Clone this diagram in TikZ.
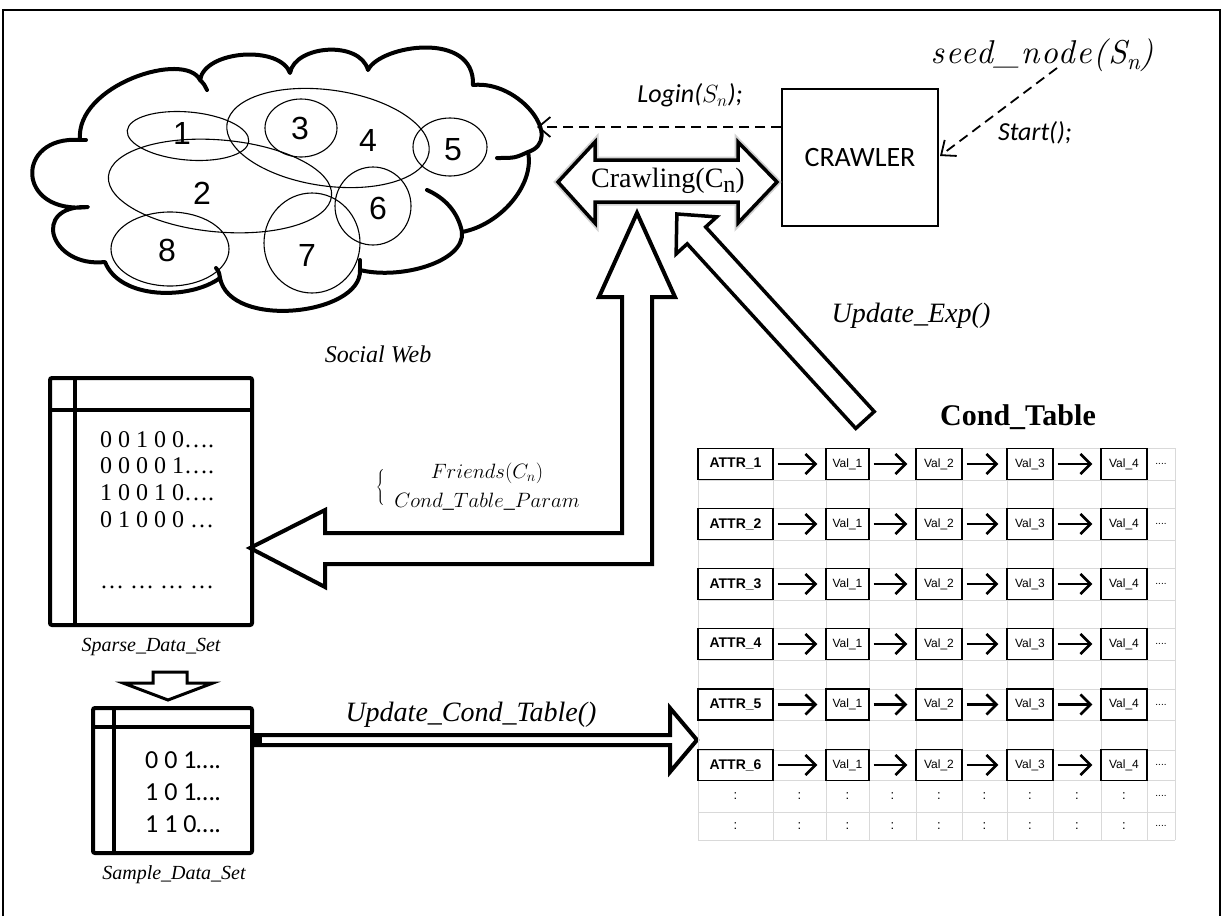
\documentclass[tikz,border=0pt]{standalone}
\usepackage{fontspec}
\setmainfont{Liberation Serif}
\newfontfamily\arialf{Liberation Sans}
\newfontfamily\calib{Carlito}
\newfontfamily\mathlike[LetterSpace=5,ItalicFont=lmroman10-italic.otf]{lmroman10-regular.otf}
\usetikzlibrary{arrows.meta}

\begin{document}
\begin{tikzpicture}[x=1pt,y=1pt,
  cloudline/.style={line width=4pt, line join=round, line cap=round},
  venn/.style={line width=1.1pt},
  num/.style={font=\arialf\fontsize{32}{32}\selectfont, inner sep=0pt},
  blockarrow/.style={draw, fill=white, line width=4pt, line join=miter, miter limit=20},
  barb/.style={-{Straight Barb[length=12pt,width=20pt,line width=1.8pt]}},
  dasharrow/.style={barb, dash pattern=on 10pt off 6pt, line width=1.8pt},
  datatable/.style={draw, line width=4pt, rounded corners=2pt},
  gridline/.style={draw=black!15, line width=1pt},
  attrbox/.style={draw, line width=1.4pt, minimum width=75pt, minimum height=31pt, inner sep=0pt,
    font=\arialf\bfseries\fontsize{14}{14}\selectfont},
  valbox/.style={draw, line width=1.4pt, minimum height=31pt, inner sep=0pt,
    font=\arialf\fontsize{12}{12}\selectfont},
  cellarrow/.style={line width=2.6pt, shorten <=4pt, shorten >=8pt,
    -{Straight Barb[length=10pt,width=20pt,line width=2.6pt]}},
  tdots/.style={font=\arialf\fontsize{10}{10}\selectfont, inner sep=0pt},
  tcolon/.style={font=\arialf\fontsize{13}{13}\selectfont, inner sep=0pt},
  itlabel/.style={font=\itshape\fontsize{28}{28}\selectfont, inner sep=0pt},
  smalllabel/.style={font=\itshape\fontsize{20}{20}\selectfont, inner sep=0pt},
  calit/.style={font=\calib\itshape\fontsize{26}{26}\selectfont, inner sep=0pt},
  mathlabel/.style={font=\fontsize{22}{22}\selectfont, inner sep=0pt},
]
\useasboundingbox (0,0) rectangle (1224,-916);

% outer frame
\draw[line width=2pt] (3,-916) -- (3,-10) -- (1220,-10) -- (1220,-916);

% ---------- social web cloud ----------
\draw[cloudline, fill=white]
  (88,-207) .. controls (15,-215) and (15,-135) .. (80,-140)
  .. controls (75,-85) and (185,-50) .. (200,-80)
  .. controls (205,-50) and (280,-45) .. (290,-73)
  .. controls (295,-45) and (360,-40) .. (368,-70)
  .. controls (380,-45) and (475,-30) .. (473,-85)
  .. controls (520,-80) and (565,-140) .. (528,-152)
  .. controls (535,-185) and (500,-225) .. (462,-232)
  .. controls (465,-262) and (400,-280) .. (360,-270)
  .. controls (362,-315) and (230,-330) .. (220,-278)
  .. controls (190,-300) and (120,-300) .. (105,-262)
  .. controls (50,-268) and (30,-205) .. (88,-207) -- cycle;
% inner ends of the puffs
\draw[cloudline] (528,-152) .. controls (515,-158) .. (497,-158);
\draw[cloudline] (462,-232) .. controls (458,-212) and (445,-198) .. (427,-190);
\draw[cloudline] (360,-270) -- (360,-260);
\draw[cloudline] (220,-278) .. controls (219,-272) .. (216,-268);
\draw[cloudline] (200,-80) .. controls (204,-84) .. (207,-90);
\draw[cloudline] (80,-140) -- (86,-140);

% overlapping communities
\draw[venn] (188,-136) ellipse[x radius=61, y radius=24, rotate=-5];
\draw[venn] (220,-186) ellipse[x radius=112, y radius=46, rotate=-5];
\draw[venn] (301,-128) ellipse[x radius=36, y radius=29];
\draw[venn] (328,-138) ellipse[x radius=102, y radius=48, rotate=-8];
\draw[venn] (450,-147) ellipse[x radius=37, y radius=29];
\draw[venn] (373,-206) ellipse[x radius=38, y radius=39];
\draw[venn] (312,-243) ellipse[x radius=48, y radius=50];
\draw[venn] (170,-249) ellipse[x radius=59, y radius=37];
\node[num] (n1) at (182,-133) {1};
\node[num] (n2) at (202,-193) {2};
\node[num] (n3) at (300,-128) {3};
\node[num] (n4) at (368,-140) {4};
\node[num] (n5) at (453,-150) {5};
\node[num] (n6) at (378,-208) {6};
\node[num] (n7) at (307,-255) {7};
\node[num] (n8) at (167,-250) {8};
\node[font=\itshape\fontsize{24}{24}\selectfont, inner sep=0pt] (social) at (378,-354) {Social Web};
\coordinate (cloudR) at (537,-127);

% ---------- crawler ----------
\node[draw, line width=1.5pt, minimum width=156pt, minimum height=137pt, inner sep=0pt,
      font=\calib\fontsize{28}{28}\selectfont] (crawler) at (860,-157.5) {CRAWLER};
\node[font=\mathlike\itshape\fontsize{33}{33}\selectfont, inner sep=0pt] (seed) at (1042,-55)
  {seed\_node(S\raisebox{-6pt}{\fontsize{23}{23}\selectfont n})};
\coordinate (seedEnd) at (1057,-68);
\coordinate (crawlerR) at (940,-156);
\draw[dasharrow] (seedEnd) -- (crawlerR);
\node[calit] (start) at (1035,-133) {Start();};
\draw[dasharrow] (crawler.west |- cloudR) -- (cloudR);
\node[calit] (login) at (690,-95) {Login($S_n$);};

% ---------- crawling double arrow ----------
\path[draw=black!30, line width=7pt, line join=miter, opacity=0.6]
  (558,-182) -- (595,-142) -- (595,-160) -- (738,-160) -- (738,-142) -- (777,-182)
  -- (738,-223) -- (738,-202) -- (595,-202) -- (595,-223) -- cycle;
\draw[line width=3.5pt, fill=white, line join=miter]
  (558,-182) -- (595,-142) -- (595,-160) -- (738,-160) -- (738,-142) -- (777,-182)
  -- (738,-223) -- (738,-202) -- (595,-202) -- (595,-223) -- cycle;
\node[font=\fontsize{28}{28}\selectfont, inner sep=0pt] (crawl) at (668,-181)
  {Crawling(C\raisebox{-5pt}{\fontsize{24}{24}\selectfont n})};

% ---------- block arrows ----------
% crawled friends back to the sparse data set
\draw[blockarrow]
  (637,-213) -- (675,-297) -- (652,-297) -- (652,-564) -- (325,-564) -- (325,-587)
  -- (250,-548) -- (325,-510) -- (325,-533) -- (622,-533) -- (622,-297) -- (599,-297) -- cycle;
% expectation update from the condition table
\begin{scope}[shift={(865,-420)}, rotate=132.4]
  \draw[blockarrow, line width=3.5pt]
    (0,-12.5) -- (250,-12.5) -- (250,-27.5) -- (279,0) -- (250,27.5) -- (250,12.5) -- (0,12.5) -- cycle;
\end{scope}
\node[itlabel] (updexp) at (911,-316) {Update\_Exp()};
% sparse -> sample
\draw[blockarrow, line width=3pt]
  (153,-672) -- (187,-672) -- (187,-683) -- (213,-683) -- (168,-700) -- (123,-683) -- (153,-683) -- cycle;
% sample -> condition table
\draw[blockarrow]
  (253,-735) -- (670,-735) -- (670,-708) -- (697,-740) -- (670,-772) -- (670,-745) -- (253,-745) -- cycle;
\fill (252,-733) rectangle (262,-747);
\node[itlabel] (updcond) at (471,-715) {Update\_Cond\_Table()};

% label on the L arrow
\node[font=\fontsize{22}{22}\selectfont, inner sep=0pt] (brace) at (381,-487)
  {$\left\{\rule{0pt}{22pt}\right.$};
\node[mathlabel] (fr1) at (487,-473) {$Friends(C_n)$};
\node[mathlabel] (fr2) at (487,-502) {$Cond\_Table\_Param$};

% ---------- sparse data set ----------
\draw[datatable] (50,-378) rectangle (252,-625);
\draw[line width=4pt] (50,-410) -- (252,-410) (75,-378) -- (75,-625);
\begin{scope}[every node/.style={anchor=base west, inner sep=0pt, font=\fontsize{24}{24}\selectfont}]
  \node (s1) at (100,-447) {0 0 1 0 0….};
  \node (s2) at (100,-473) {0 0 0 0 1….};
  \node (s3) at (100,-500) {1 0 0 1 0….};
  \node (s4) at (100,-527) {0 1 0 0 0 …};
  \node (s5) at (100,-588) {… … … …};
\end{scope}
\node[smalllabel] (sparse) at (151,-647) {Sparse\_Data\_Set};

% ---------- sample data set ----------
\draw[datatable] (93,-708) rectangle (252,-853);
\draw[line width=4pt] (93,-727) -- (252,-727) (114,-708) -- (114,-853);
\begin{scope}[every node/.style={anchor=base west, inner sep=0pt, font=\calib\fontsize{26}{26}\selectfont}]
  \node (t1) at (145,-768) {0 0 1….};
  \node (t2) at (145,-800) {1 0 1….};
  \node (t3) at (145,-832) {1 1 0….};
\end{scope}
\node[smalllabel] (sample) at (174,-875) {Sample\_Data\_Set};

% ---------- condition table ----------
\node[font=\bfseries\fontsize{30}{30}\selectfont, inner sep=0pt] (condtitle) at (1018,-417) {Cond\_Table};
\foreach \x in {698,773,826,869,916,962,1007,1053,1101,1147,1175}
  \draw[gridline] (\x,-448) -- (\x,-840);
\foreach \y in {448,480,508,540,568,600,628,660,689,720,750,780,812,840}
  \draw[gridline] (698,-\y) -- (1175,-\y);
\foreach \r/\y in {1/464,2/524,3/584,4/644,5/704.5,6/765} {
  \node[attrbox] (a\r) at (735.5,-\y) {ATTR\_\r};
  \node[valbox, minimum width=43pt] (v\r a) at (847.5,-\y) {Val\_1};
  \node[valbox, minimum width=46pt] (v\r b) at (939,-\y) {Val\_2};
  \node[valbox, minimum width=46pt] (v\r c) at (1030,-\y) {Val\_3};
  \node[valbox, minimum width=46pt] (v\r d) at (1124,-\y) {Val\_4};
  \node[tdots] (e\r) at (1161,-\y) {....};
  \draw[cellarrow] (a\r) -- (v\r a);
  \draw[cellarrow] (v\r a) -- (v\r b);
  \draw[cellarrow] (v\r b) -- (v\r c);
  \draw[cellarrow] (v\r c) -- (v\r d);
}
\foreach \y [count=\k] in {796,826} {
  \foreach \x [count=\j] in {735.5,799.5,847.5,892.5,939,984.5,1030,1077,1124}
    \node[tcolon] (c\k-\j) at (\x,-\y) {:};
  \node[tdots] (ce\k) at (1161,-\y) {....};
}
\end{tikzpicture}
\end{document}
